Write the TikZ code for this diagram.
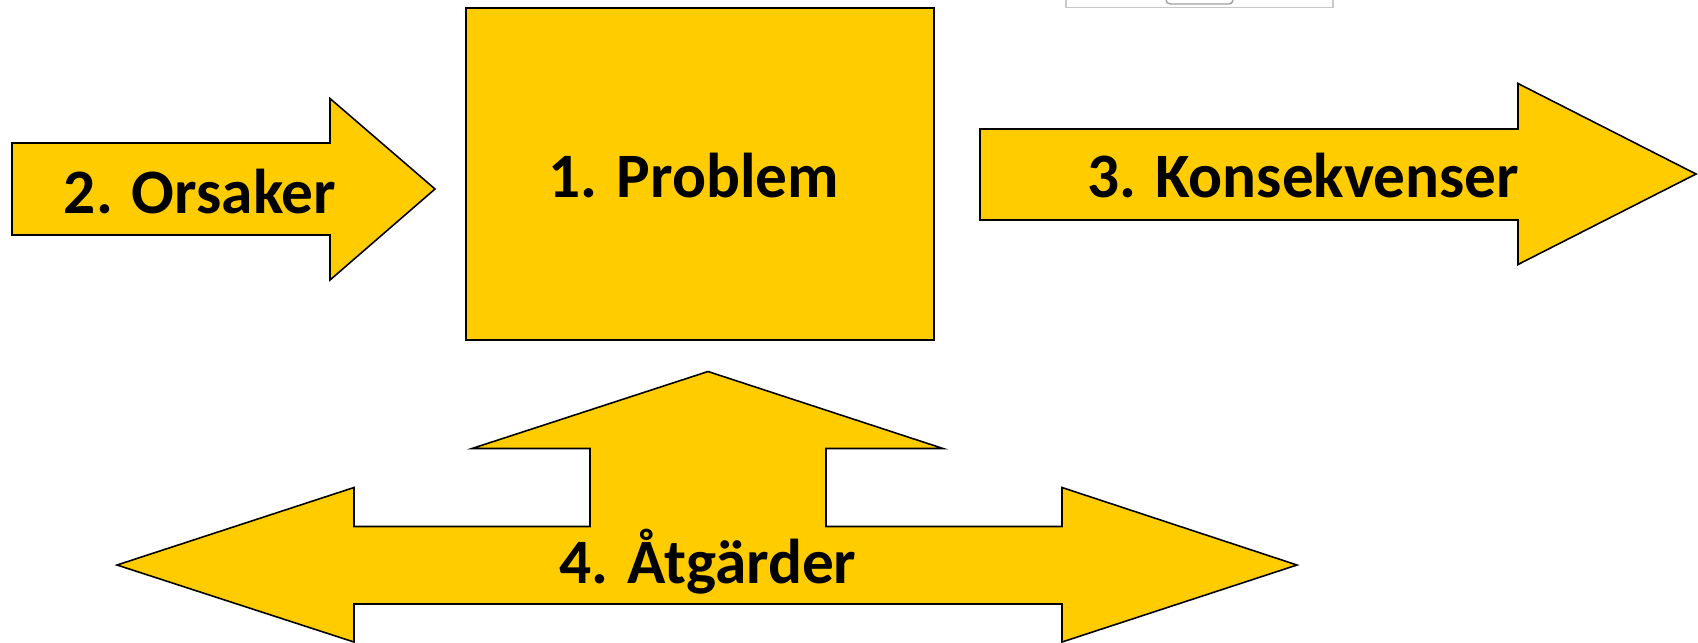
\documentclass[tikz,border=0pt]{standalone}
\usepackage{fontspec}
\setmainfont{Carlito}
\definecolor{arrowyellow}{HTML}{FFCC00}
\definecolor{framegray}{HTML}{C8C8C8}
\definecolor{knobgray}{HTML}{A0A0A0}
\begin{document}
\begin{tikzpicture}[x=0.01cm,y=-0.01cm,
  shapestyle/.style={fill=arrowyellow,draw=black,line width=0.45pt,line join=miter},
  boxstyle/.style={fill=arrowyellow,draw=black,line width=0.8pt},
  labelstyle/.style={font=\fontsize{18}{20}\selectfont\bfseries,anchor=base,inner sep=0pt}]
\useasboundingbox (0,0) rectangle (1698,642);
% faint grey frame at top
\draw[framegray,line width=0.4pt] (1066,0) -- (1066,7.5) -- (1333,7.5) -- (1333,0);
\draw[knobgray,line width=0.4pt,rounded corners=1.2pt] (1166,0) -- (1166,4) -- (1233,4) -- (1233,0);
% 1. Problem box
\draw[boxstyle] (466,8) rectangle (934,340);
% 2. Orsaker arrow
\draw[shapestyle] (12,143) -- (330,143) -- (330,98.5) -- (435,189) -- (330,280) -- (330,235) -- (12,235) -- cycle;
% 3. Konsekvenser arrow
\draw[shapestyle] (980,129) -- (1518,129) -- (1518,83.5) -- (1696,174) -- (1518,264.5) -- (1518,220) -- (980,220) -- cycle;
% 4. Atgarder three-way arrow
\draw[shapestyle] (117,565) -- (354,487.5) -- (354,526.5) -- (590,526.5) -- (590,448.5) -- (472,448.5) -- (708,371.5)
  -- (943,448.5) -- (826,448.5) -- (826,526.5) -- (1062,526.5) -- (1062,487.5) -- (1297,565)
  -- (1062,642) -- (1062,604) -- (354,604) -- (354,642) -- cycle;
% labels
\node[labelstyle] (orsaker) at (200,213) {2. Orsaker};
\node[labelstyle] (problem) at (694,197) {1. Problem};
\node[labelstyle] (konsekvenser) at (1303,197) {3. Konsekvenser};
\node[labelstyle] (atgarder) at (708,583) {4. Åtgärder};
\end{tikzpicture}
\end{document}
